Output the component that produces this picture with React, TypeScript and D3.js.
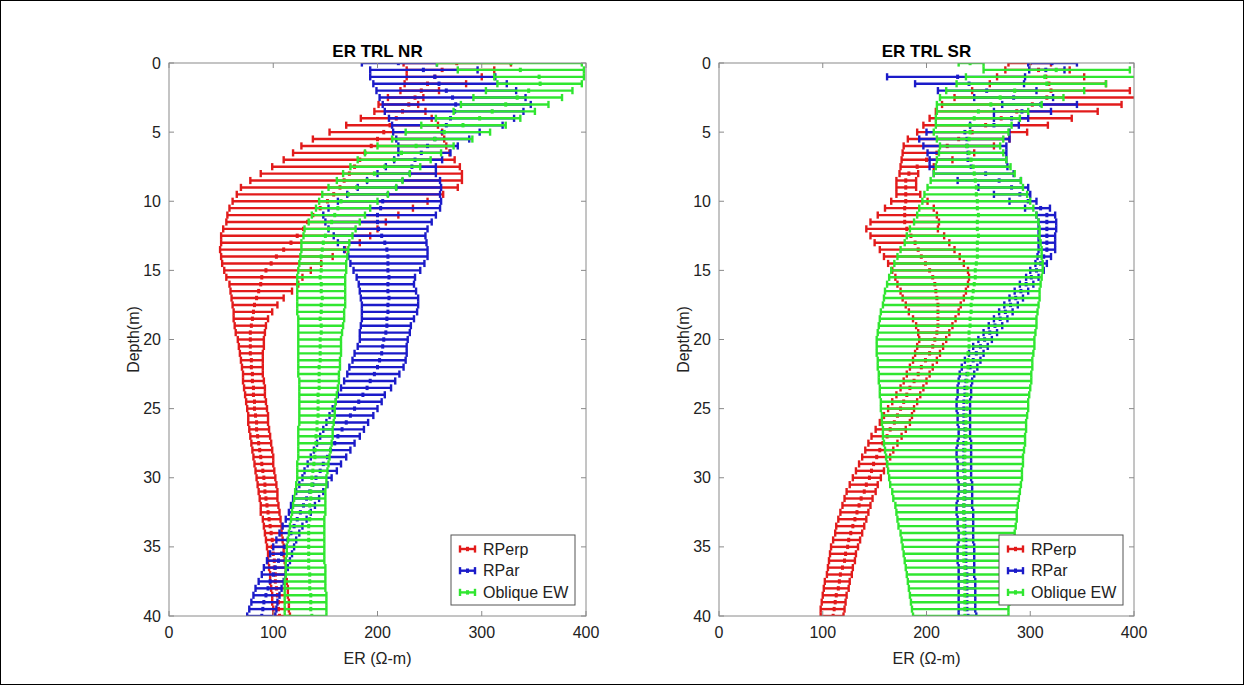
import React from 'react';
import * as d3 from 'd3';

// Sampled depths (m): every 0.5 m from 0 to 40
const depths: number[] = d3.range(0, 40.001, 0.5);

const xTicks = [0, 100, 200, 300, 400];
const yTicks = [0, 5, 10, 15, 20, 25, 30, 35, 40];
const seriesNames = ['RPerp', 'RPar', 'Oblique EW'];
const seriesColors = ['#e21b1b', '#1b1bc9', '#30e630'];

// ---------- ER TRL NR ----------
const nrPerpLow = [
  225, 228, 228, 226, 222, 210, 201, 197, 184, 170,
  154, 138, 127, 119, 110, 99, 88, 78, 69, 65,
  61, 58, 56, 55, 52, 50, 50, 49, 50, 51,
  53, 55, 58, 59, 60, 61, 62, 62, 63, 64,
  66, 67, 68, 69, 70, 71, 71, 72, 73, 74,
  75, 76, 76, 77, 78, 79, 80, 81, 82, 83,
  84, 85, 86, 87, 88, 88, 90, 91, 92, 93,
  94, 95, 95, 96, 97, 97, 98, 99, 99, 100,
  100,
];
const nrPerpMid = [
  276, 262, 255, 248, 242, 236, 230, 224, 218, 212,
  206, 200, 194, 188, 183, 178, 173, 168, 164, 158,
  152, 145, 138, 133, 129, 123, 117, 110, 103, 98,
  93, 89, 88, 86, 84, 82, 81, 80, 79, 78,
  78, 78, 78, 79, 79, 80, 80, 81, 81, 82,
  82, 83, 84, 84, 85, 86, 87, 88, 89, 90,
  91, 92, 92, 93, 94, 95, 96, 97, 98, 99,
  99, 100, 101, 101, 102, 102, 103, 104, 105, 105,
  106,
];
const nrPerpHigh = [
  328, 312, 300, 285, 259, 244, 239, 246, 252, 258,
  262, 264, 266, 269, 274, 279, 281, 281, 277, 263,
  248, 234, 220, 208, 200, 193, 183, 169, 157, 146,
  136, 128, 124, 118, 110, 104, 99, 95, 93, 92,
  91, 91, 90, 90, 90, 90, 91, 92, 92, 93,
  94, 95, 95, 96, 97, 98, 99, 100, 100, 101,
  102, 103, 104, 104, 105, 106, 107, 108, 108, 109,
  110, 110, 111, 112, 112, 113, 114, 114, 115, 115,
  116,
];

const nrParLow = [
  185, 193, 193, 196, 199, 202, 205, 207, 211, 214,
  215, 218, 220, 220, 216, 208, 200, 190, 181, 171,
  162, 153, 148, 150, 153, 158, 162, 168, 172, 174,
  177, 180, 182, 183, 184, 185, 185, 185, 184, 183,
  183, 181, 178, 176, 173, 171, 168, 165, 162, 160,
  157, 154, 151, 148, 145, 142, 139, 136, 133, 130,
  128, 125, 122, 119, 117, 115, 112, 109, 106, 103,
  100, 97, 94, 91, 89, 86, 83, 81, 79, 77,
  75,
];
const nrParMid = [
  220, 244, 255, 259, 266, 272, 275, 274, 270, 266,
  262, 255, 248, 242, 236, 233, 231, 224, 218, 210,
  205, 203, 200, 200, 201, 204, 207, 209, 210, 210,
  210, 211, 210, 210, 211, 210, 210, 209, 209, 208,
  206, 205, 204, 202, 200, 197, 193, 190, 186, 182,
  178, 174, 170, 166, 162, 159, 155, 152, 148, 145,
  141, 138, 135, 132, 129, 126, 123, 120, 117, 114,
  111, 108, 105, 102, 100, 97, 95, 93, 91, 90,
  89,
];
const nrParHigh = [
  257, 296, 313, 324, 333, 342, 347, 340, 331, 320,
  298, 288, 277, 270, 262, 256, 256, 260, 261, 260,
  261, 260, 256, 252, 248, 246, 247, 248, 248, 245,
  241, 236, 235, 237, 239, 239, 238, 235, 232, 231,
  229, 228, 228, 227, 225, 221, 217, 213, 207, 204,
  200, 196, 191, 187, 183, 178, 174, 170, 165, 161,
  156, 152, 148, 144, 140, 136, 132, 128, 125, 122,
  120, 118, 116, 114, 112, 110, 108, 106, 104, 103,
  102,
];

const nrObqLow = [
  257, 277, 312, 315, 304, 292, 280, 273, 256, 242,
  227, 214, 200, 188, 181, 174, 167, 161, 153, 147,
  144, 141, 137, 134, 130, 129, 127, 127, 126, 125,
  124, 123, 123, 123, 123, 123, 123, 124, 124, 124,
  124, 124, 124, 124, 124, 124, 125, 125, 125, 125,
  125, 125, 125, 124, 124, 124, 124, 124, 123, 123,
  123, 122, 121, 120, 119, 118, 117, 116, 115, 114,
  113, 113, 112, 112, 112, 111, 111, 111, 111, 111,
  111,
];
const nrObqMid = [
  328, 337, 355, 356, 345, 334, 323, 310, 298, 282,
  264, 255, 237, 223, 216, 207, 197, 190, 180, 172,
  165, 162, 159, 156, 153, 150, 148, 147, 146, 146,
  146, 145, 146, 146, 147, 146, 146, 145, 146, 146,
  145, 145, 145, 145, 144, 144, 144, 144, 143, 143,
  143, 143, 142, 142, 141, 141, 140, 140, 139, 138,
  137, 137, 136, 136, 135, 135, 135, 134, 134, 134,
  134, 134, 134, 134, 135, 135, 135, 136, 136, 136,
  137,
];
const nrObqHigh = [
  396, 398, 398, 396, 387, 377, 364, 351, 337, 323,
  308, 291, 273, 261, 251, 241, 231, 224, 218, 210,
  200, 193, 188, 183, 179, 176, 173, 172, 171, 170,
  170, 169, 169, 169, 169, 169, 168, 168, 167, 166,
  165, 165, 165, 164, 164, 163, 163, 162, 161, 160,
  159, 159, 158, 157, 157, 156, 155, 154, 153, 152,
  151, 151, 150, 150, 150, 150, 149, 149, 149, 149,
  149, 149, 149, 150, 150, 150, 150, 151, 151, 151,
  151,
];

// ---------- ER TRL SR ----------
const srPerpLow = [
  279, 276, 268, 261, 244, 227, 215, 209, 203, 197,
  191, 182, 178, 177, 176, 175, 174, 171, 171, 171,
  166, 160, 153, 146, 142, 146, 150, 155, 159, 163,
  167, 170, 172, 175, 177, 180, 183, 187, 190, 192,
  193, 191, 189, 187, 184, 181, 178, 175, 171, 167,
  163, 159, 155, 151, 147, 144, 141, 138, 135, 132,
  129, 126, 123, 121, 119, 117, 115, 113, 112, 110,
  108, 107, 106, 105, 104, 102, 101, 100, 99, 98,
  98,
];
const srPerpMid = [
  300, 308, 315, 318, 320, 316, 302, 287, 272, 257,
  244, 231, 220, 210, 200, 191, 183, 180, 180, 180,
  180, 179, 179, 179, 181, 185, 189, 192, 195, 199,
  203, 206, 208, 209, 210, 211, 211, 211, 211, 210,
  208, 206, 203, 199, 195, 192, 188, 184, 181, 178,
  175, 172, 169, 165, 162, 158, 155, 152, 149, 147,
  145, 142, 140, 137, 135, 133, 131, 129, 127, 125,
  124, 122, 121, 119, 117, 116, 115, 113, 112, 111,
  110,
];
const srPerpHigh = [
  320, 338, 352, 373, 396, 405, 388, 365, 340, 317,
  297, 280, 265, 246, 225, 207, 192, 190, 190, 194,
  201, 207, 210, 212, 211, 217, 222, 227, 232, 236,
  240, 241, 240, 238, 236, 233, 231, 228, 225, 222,
  219, 216, 213, 210, 206, 203, 200, 197, 194, 191,
  188, 186, 184, 180, 176, 172, 168, 165, 162, 159,
  156, 153, 151, 148, 146, 144, 142, 140, 138, 136,
  134, 132, 131, 129, 128, 126, 125, 123, 122, 121,
  120,
];

const srParLow = [
  298, 299, 162, 189, 211, 246, 273, 265, 265, 242,
  200, 193, 197, 201, 203, 203, 207, 230, 250, 265,
  280, 295, 306, 308, 308, 308, 308, 308, 307, 305,
  300, 296, 290, 285, 280, 275, 270, 265, 260, 255,
  250, 245, 241, 237, 234, 232, 231, 230, 230, 229,
  229, 230, 230, 231, 231, 230, 229, 229, 230, 230,
  230, 231, 231, 230, 229, 229, 230, 230, 231, 231,
  230, 230, 230, 231, 231, 231, 231, 231, 231, 231,
  231,
];
const srParMid = [
  321, 315, 230, 241, 258, 284, 310, 292, 282, 265,
  237, 239, 239, 240, 240, 243, 257, 270, 282, 290,
  298, 310, 316, 316, 316, 316, 316, 316, 313, 310,
  306, 301, 296, 291, 286, 281, 276, 271, 266, 261,
  256, 252, 248, 245, 242, 239, 238, 237, 237, 236,
  236, 236, 236, 237, 237, 236, 236, 236, 236, 236,
  237, 237, 237, 237, 236, 236, 237, 237, 237, 238,
  238, 238, 238, 238, 239, 239, 239, 239, 239, 239,
  240,
];
const srParHigh = [
  345, 333, 295, 294, 306, 322, 345, 320, 298, 289,
  280, 280, 277, 277, 277, 278, 284, 291, 298, 300,
  306, 319, 324, 325, 325, 324, 324, 324, 320, 316,
  313, 308, 303, 298, 293, 288, 283, 278, 273, 268,
  263, 259, 255, 252, 249, 246, 244, 243, 243, 242,
  242, 242, 242, 242, 242, 243, 243, 243, 243, 243,
  243, 244, 244, 244, 244, 245, 245, 245, 245, 245,
  246, 246, 246, 246, 246, 247, 247, 247, 247, 247,
  248,
];

const srObqLow = [
  231, 255, 238, 229, 219, 213, 210, 210, 209, 209,
  207, 210, 213, 212, 210, 209, 207, 204, 201, 198,
  196, 193, 191, 188, 184, 181, 179, 175, 172, 169,
  166, 164, 162, 160, 159, 158, 156, 155, 154, 153,
  152, 152, 152, 153, 153, 154, 154, 155, 155, 156,
  156, 157, 157, 158, 158, 159, 160, 161, 162, 163,
  164, 165, 167, 168, 170, 171, 172, 173, 175, 176,
  177, 178, 179, 180, 181, 182, 183, 184, 185, 186,
  187,
];
const srObqMid = [
  242, 325, 314, 316, 285, 271, 262, 250, 246, 242,
  242, 241, 239, 241, 243, 245, 246, 247, 248, 248,
  249, 249, 250, 249, 249, 250, 249, 249, 249, 248,
  247, 247, 246, 245, 244, 243, 243, 242, 242, 241,
  241, 241, 240, 240, 240, 240, 239, 239, 239, 239,
  239, 238, 238, 238, 238, 238, 237, 237, 237, 237,
  237, 237, 237, 236, 236, 236, 236, 236, 236, 236,
  236, 236, 236, 237, 237, 237, 237, 237, 237, 237,
  237,
];
const srObqHigh = [
  255, 396, 402, 373, 352, 332, 311, 298, 290, 282,
  279, 274, 271, 274, 277, 281, 285, 291, 293, 297,
  300, 303, 306, 308, 309, 309, 310, 311, 311, 312,
  312, 311, 310, 309, 309, 308, 307, 306, 306, 305,
  304, 304, 303, 302, 302, 301, 301, 300, 299, 298,
  298, 297, 296, 296, 295, 295, 294, 293, 293, 292,
  292, 291, 290, 289, 288, 287, 287, 286, 285, 285,
  284, 284, 283, 283, 282, 281, 281, 280, 280, 279,
  279,
];

type Series = { low: number[]; mid: number[]; high: number[] };

const panels = [
  {
    id: 'nr',
    title: 'ER TRL NR',
    left: 169,
    right: 586,
    series: [
      { low: nrPerpLow, mid: nrPerpMid, high: nrPerpHigh },
      { low: nrParLow, mid: nrParMid, high: nrParHigh },
      { low: nrObqLow, mid: nrObqMid, high: nrObqHigh },
    ] as Series[],
  },
  {
    id: 'sr',
    title: 'ER TRL SR',
    left: 719,
    right: 1134,
    series: [
      { low: srPerpLow, mid: srPerpMid, high: srPerpHigh },
      { low: srParLow, mid: srParMid, high: srParHigh },
      { low: srObqLow, mid: srObqMid, high: srObqHigh },
    ] as Series[],
  },
];

const TOP = 63;
const BOTTOM = 616;
const FONT = 'Arial, "Liberation Sans", Helvetica, sans-serif';
const AXIS_COLOR = '#8a8a8a';
const TEXT_COLOR = '#222';
const BAR_W = 2.4;
const CAP_H = 3.6;

function ErrorBarSeries({ s, color, x, y }: { s: Series; color: string; x: any; y: any }) {
  return (
    <g>
      {depths.map((d, i) => {
        const yy = y(d);
        const x0 = x(s.low[i]);
        const x1 = x(s.high[i]);
        const xm = x(s.mid[i]);
        return (
          <g key={i}>
            <line x1={x0} x2={x1} y1={yy} y2={yy} stroke={color} strokeWidth={BAR_W} />
            <line x1={x0} x2={x0} y1={yy - CAP_H} y2={yy + CAP_H} stroke={color} strokeWidth={BAR_W} />
            <line x1={x1} x2={x1} y1={yy - CAP_H} y2={yy + CAP_H} stroke={color} strokeWidth={BAR_W} />
            <rect x={xm - 1.5} y={yy - 2.2} width={3} height={4.4} fill={color} />
          </g>
        );
      })}
    </g>
  );
}

function Panel({ p }: { p: (typeof panels)[number] }) {
  const x = d3.scaleLinear().domain([0, 400]).range([p.left, p.right]);
  const y = d3.scaleLinear().domain([0, 40]).range([TOP, BOTTOM]);
  const cx = (p.left + p.right) / 2;
  const legX = p.right - 135;
  const legY = 535;
  return (
    <g>
      <defs>
        <clipPath id={`clip-${p.id}`}>
          <rect x={p.left} y={TOP} width={p.right - p.left} height={BOTTOM - TOP} />
        </clipPath>
      </defs>
      <g clipPath={`url(#clip-${p.id})`}>
        {p.series.map((s, k) => (
          <ErrorBarSeries key={k} s={s} color={seriesColors[k]} x={x} y={y} />
        ))}
      </g>
      {/* axes box */}
      <rect x={p.left} y={TOP} width={p.right - p.left} height={BOTTOM - TOP} fill="none" stroke={AXIS_COLOR} strokeWidth={1} />
      {xTicks.map((t) => (
        <g key={`x${t}`}>
          <line x1={x(t)} x2={x(t)} y1={BOTTOM} y2={BOTTOM - 5} stroke={AXIS_COLOR} />
          <line x1={x(t)} x2={x(t)} y1={TOP} y2={TOP + 5} stroke={AXIS_COLOR} />
          <text x={x(t)} y={BOTTOM + 22} textAnchor="middle" fontSize={16} fill={TEXT_COLOR} fontFamily={FONT}>
            {t}
          </text>
        </g>
      ))}
      {yTicks.map((t) => (
        <g key={`y${t}`}>
          <line x1={p.left} x2={p.left + 5} y1={y(t)} y2={y(t)} stroke={AXIS_COLOR} />
          <line x1={p.right} x2={p.right - 5} y1={y(t)} y2={y(t)} stroke={AXIS_COLOR} />
          <text x={p.left - 8} y={y(t) + 5.5} textAnchor="end" fontSize={16} fill={TEXT_COLOR} fontFamily={FONT}>
            {t}
          </text>
        </g>
      ))}
      <text x={cx} y={57} textAnchor="middle" fontSize={17} fontWeight="bold" fill="#000" fontFamily={FONT}>
        {p.title}
      </text>
      <text x={cx} y={664} textAnchor="middle" fontSize={16} fill={TEXT_COLOR} fontFamily={FONT}>
        ER (Ω-m)
      </text>
      <text
        transform={`translate(${p.left - 30},${(TOP + BOTTOM) / 2}) rotate(-90)`}
        textAnchor="middle"
        fontSize={16}
        fill={TEXT_COLOR}
        fontFamily={FONT}
      >
        Depth(m)
      </text>
      {/* legend */}
      <g>
        <rect x={legX} y={legY} width={124} height={70} fill="#fff" stroke="#555" strokeWidth={1} />
        {seriesNames.map((name, k) => {
          const ly = legY + 14 + k * 21.7;
          return (
            <g key={name}>
              <line x1={legX + 9} x2={legX + 24} y1={ly} y2={ly} stroke={seriesColors[k]} strokeWidth={BAR_W} />
              <line x1={legX + 9} x2={legX + 9} y1={ly - CAP_H} y2={ly + CAP_H} stroke={seriesColors[k]} strokeWidth={BAR_W} />
              <line x1={legX + 24} x2={legX + 24} y1={ly - CAP_H} y2={ly + CAP_H} stroke={seriesColors[k]} strokeWidth={BAR_W} />
              <rect x={legX + 15} y={ly - 2.2} width={3} height={4.4} fill={seriesColors[k]} />
              <text x={legX + 32} y={ly + 5.5} fontSize={16} fill={TEXT_COLOR} fontFamily={FONT}>
                {name}
              </text>
            </g>
          );
        })}
      </g>
    </g>
  );
}

export default function App() {
  return (
    <svg
      width={1244}
      height={685}
      viewBox="0 0 1244 685"
      style={{ position: 'absolute', left: 0, top: 0, background: '#fff' }}
    >
      <rect x={0} y={0} width={1244} height={685} fill="#fff" />
      <rect x={0.5} y={0.5} width={1243} height={684} fill="none" stroke="#000" strokeWidth={1} />
      {panels.map((p) => (
        <Panel key={p.id} p={p} />
      ))}
    </svg>
  );
}
